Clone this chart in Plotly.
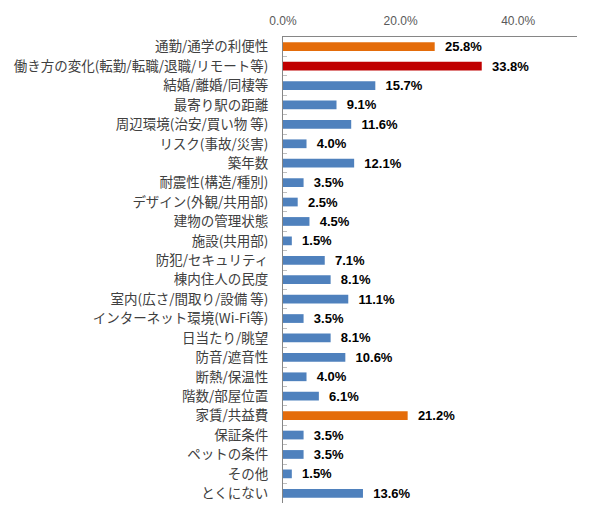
import plotly.graph_objects as go

categories = [
    "通勤/通学の利便性",
    "働き方の変化(転勤/転職/退職/リモート等)",
    "結婚/離婚/同棲等",
    "最寄り駅の距離",
    "周辺環境(治安/買い物 等)",
    "リスク(事故/災害)",
    "築年数",
    "耐震性(構造/種別)",
    "デザイン(外観/共用部)",
    "建物の管理状態",
    "施設(共用部)",
    "防犯/セキュリティ",
    "棟内住人の民度",
    "室内(広さ/間取り/設備 等)",
    "インターネット環境(Wi-Fi等)",
    "日当たり/眺望",
    "防音/遮音性",
    "断熱/保温性",
    "階数/部屋位置",
    "家賃/共益費",
    "保証条件",
    "ペットの条件",
    "その他",
    "とくにない",
]
values = [25.8, 33.8, 15.7, 9.1, 11.6, 4.0, 12.1, 3.5, 2.5, 4.5, 1.5, 7.1, 8.1,
          11.1, 3.5, 8.1, 10.6, 4.0, 6.1, 21.2, 3.5, 3.5, 1.5, 13.6]
highlight = {"通勤/通学の利便性": "#E46C0A",
             "働き方の変化(転勤/転職/退職/リモート等)": "#C00000",
             "家賃/共益費": "#E46C0A"}
tick_vals = [0, 20, 40]
tick_text = ["0.0%", "20.0%", "40.0%"]

colors = [highlight.get(c, "#4F81BD") for c in categories]

fig = go.Figure(go.Bar(
    y=categories,
    x=values,
    orientation="h",
    marker=dict(color=colors, line=dict(width=0)),
    width=0.45,
    text=[f"  {v:.1f}%" for v in values],
    textposition="outside",
    constraintext="none",
    cliponaxis=False,
    textfont=dict(family="Liberation Sans", size=13, color="#000000", weight="bold"),
))

# page body adds an 8px offset; figure sized to fit the 593x519 window
fig.update_layout(
    width=585, height=511,
    margin=dict(l=275, r=16, t=29, b=16),
    paper_bgcolor="white", plot_bgcolor="white",
    showlegend=False,
    bargap=0.55,
)
fig.update_xaxes(
    side="top", range=[0, 50], tickvals=tick_vals, ticktext=tick_text,
    showgrid=False, zeroline=False, showline=True, linecolor="#868686", linewidth=1,
    ticks="", ticklabelstandoff=6, automargin=False,
    tickfont=dict(family="Liberation Sans", size=12, color="#595959"),
)
fig.update_yaxes(
    categoryorder="array", categoryarray=categories, autorange="reversed",
    showgrid=False, zeroline=False, showline=True, linecolor="#868686", linewidth=1,
    ticks="inside", tickson="boundaries", ticklen=4, tickcolor="#BFBFBF",
    ticklabelstandoff=11, automargin=False,
    tickfont=dict(family="Noto Sans CJK JP", size=13.5, color="#404040"),
)

fig.write_html("out.html")
